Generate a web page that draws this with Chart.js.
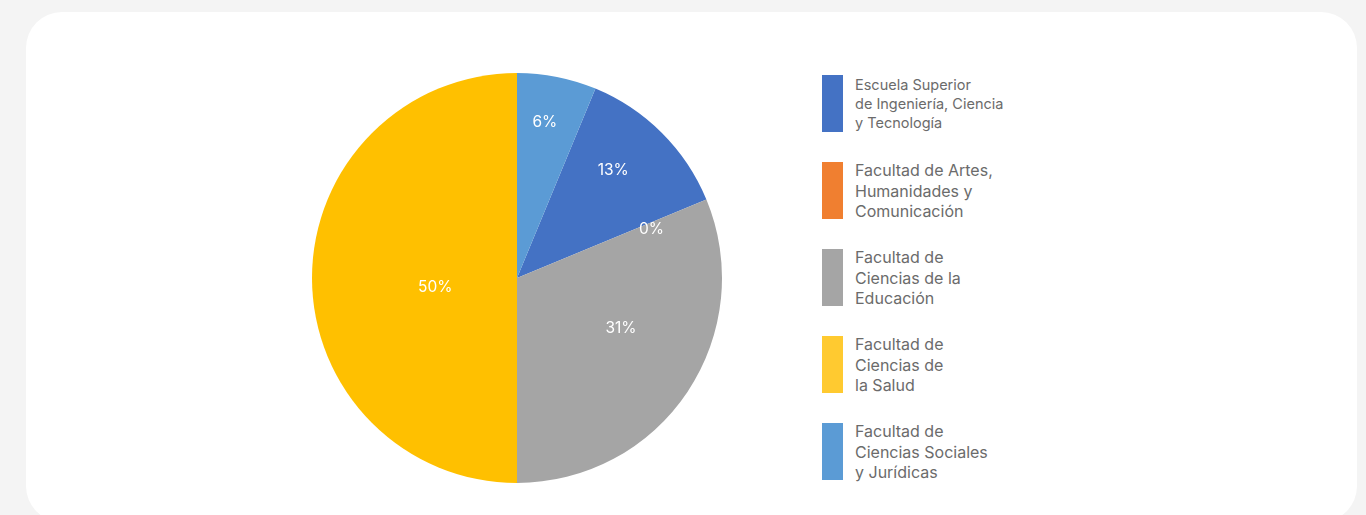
<!DOCTYPE html>
<html>
<head>
<meta charset="utf-8">
<script src="https://cdn.jsdelivr.net/npm/chart.js@4/dist/chart.umd.min.js"></script>
<style>
    html, body { margin: 0; padding: 0; }
    body { background: #f4f4f4; width: 1366px; height: 515px; overflow: hidden; position: relative; font-family: Inter, "Noto Sans", sans-serif; }
    .card { position: absolute; left: 26px; top: 12px; width: 1331px; height: 510px; background: #fff; border-radius: 36px; }
    #chartBox { position: absolute; left: 302px; top: 63px; width: 430px; height: 430px; }
    #legend { position: absolute; left: 822px; top: 75px; }
    .item { display: flex; align-items: flex-start; height: 57px; margin-bottom: 30px; }
    .box { width: 21px; height: 57px; flex: none; }
    .txt { margin-left: 12px; color: #6b6b6b; font-size: 16px; line-height: 20.5px; margin-top: -2px; }
    .txt.small { font-size: 14.5px; line-height: 19px; margin-top: 0; }
</style>
</head>
<body>
<div class="card"></div>
<div id="chartBox"><canvas id="myChart"></canvas></div>
<div id="legend"></div>
<script>
// data
var categorias = [
    ['Escuela Superior', 'de Ingeniería, Ciencia', 'y Tecnología'],
    ['Facultad de Artes,', 'Humanidades y', 'Comunicación'],
    ['Facultad de', 'Ciencias de la', 'Educación'],
    ['Facultad de', 'Ciencias de', 'la Salud'],
    ['Facultad de', 'Ciencias Sociales', 'y Jurídicas']
];
var valores = [2, 0, 5, 8, 1];
var colores = ['#4472c4', '#ed7d31', '#a5a5a5', '#ffc000', '#5b9bd5'];
var coloresLeyenda = ['#4472c4', '#f07f30', '#a5a5a5', '#ffca30', '#5b9bd5'];

var total = valores.reduce(function (a, b) { return a + b; }, 0);

// etiquetas de porcentaje (sin plugin externo)
var pctLabels = {
    id: 'pctLabels',
    afterDatasetsDraw: function (chart, args, opts) {
        var ctx = chart.ctx;
        var meta = chart.getDatasetMeta(0);
        ctx.save();
        ctx.fillStyle = '#ffffff';
        ctx.font = '15.5px Inter, "Noto Sans", sans-serif';
        ctx.textAlign = 'center';
        ctx.textBaseline = 'middle';
        meta.data.forEach(function (arc, i) {
            var p = arc.getProps(['x', 'y', 'startAngle', 'endAngle', 'outerRadius']);
            var mid = (p.startAngle + p.endAngle) / 2 + opts.shift[i] * Math.PI / 180;
            var r = p.outerRadius * opts.dist[i];
            var pct = Math.round(valores[i] / total * 100) + '%';
            ctx.fillText(pct, p.x + Math.cos(mid) * r, p.y + Math.sin(mid) * r + 2);
        });
        ctx.restore();
    }
};

new Chart(document.getElementById('myChart'), {
    type: 'pie',
    data: {
        labels: categorias.map(function (c) { return c.join(' '); }),
        datasets: [{
            data: valores,
            backgroundColor: colores,
            borderWidth: 0
        }]
    },
    options: {
        responsive: true,
        maintainAspectRatio: false,
        animation: false,
        rotation: 22.5,
        layout: { padding: 10 },
        plugins: {
            legend: { display: false },
            tooltip: { enabled: false },
            pctLabels: {
                dist: [0.71, 0.7, 0.56, 0.4, 0.78],
                shift: [-3.6, 2, -8.7, -5, -1.2]
            }
        }
    },
    plugins: [pctLabels]
});

// leyenda html
var leg = document.getElementById('legend');
categorias.forEach(function (c, i) {
    var item = document.createElement('div');
    item.className = 'item';
    var box = document.createElement('div');
    box.className = 'box';
    box.style.background = coloresLeyenda[i];
    var txt = document.createElement('div');
    txt.className = i === 0 ? 'txt small' : 'txt';
    txt.innerHTML = c.join('<br>');
    item.appendChild(box);
    item.appendChild(txt);
    leg.appendChild(item);
});
</script>
</body>
</html>
